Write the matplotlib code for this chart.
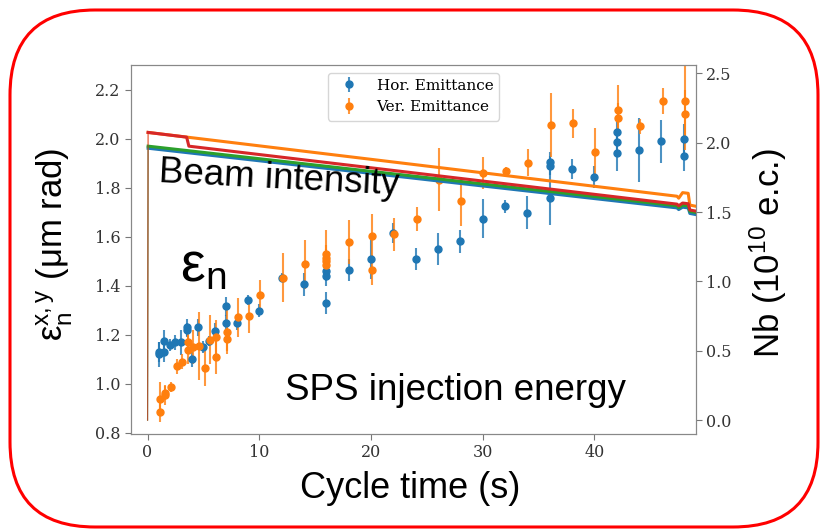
import numpy as np
import matplotlib.pyplot as plt
from matplotlib.patches import FancyBboxPatch

plt.rcParams['font.family'] = 'serif'
plt.rcParams['font.serif'] = ['DejaVu Serif']
plt.rcParams['mathtext.fontset'] = 'custom'
plt.rcParams['mathtext.rm'] = 'Liberation Sans'
plt.rcParams['mathtext.it'] = 'Liberation Sans:italic'

# emittance measurements (um rad) vs cycle time (s)
hor_t = [1.0, 1.0, 1.5, 1.5, 2.0, 2.5, 3.0, 3.5, 3.5, 4.0, 4.5, 5.0, 5.5, 6.0,
         7.0, 7.0, 8.0, 9.0, 10.0, 12.0, 14.0, 16.0, 16.0, 16.0, 18.0, 20.0,
         22.0, 24.0, 26.0, 28.0, 30.0, 32.0, 34.0, 36.0, 36.0, 36.0, 38.0,
         40.0, 42.0, 42.0, 42.0, 44.0, 46.0, 48.0, 48.0]
hor_e = [1.12, 1.13, 1.176, 1.13, 1.157, 1.17, 1.169, 1.23, 1.22, 1.10, 1.23,
         1.149, 1.176, 1.216, 1.316, 1.248, 1.248, 1.341, 1.298, 1.434, 1.406,
         1.46, 1.44, 1.329, 1.465, 1.508, 1.617, 1.511, 1.551, 1.583, 1.674,
         1.725, 1.699, 1.906, 1.891, 1.757, 1.878, 1.845, 2.029, 1.988, 1.941,
         1.956, 1.99, 2.0, 1.93]
hor_err = [0.05, 0.04, 0.044, 0.04, 0.024, 0.03, 0.05, 0.034, 0.03, 0.03, 0.034,
           0.024, 0.02, 0.034, 0.04, 0.034, 0.027, 0.02, 0.027, 0.02, 0.047,
           0.04, 0.04, 0.044, 0.044, 0.078, 0.04, 0.045, 0.064, 0.047, 0.08,
           0.027, 0.068, 0.04, 0.04, 0.11, 0.04, 0.045, 0.06, 0.05, 0.07,
           0.13, 0.087, 0.06, 0.06]

ver_t = [1.1, 1.1, 1.6, 1.6, 2.1, 2.6, 3.1, 3.6, 3.6, 4.1, 4.6, 5.1, 5.6, 6.1,
         6.1, 7.1, 7.1, 8.1, 9.1, 10.1, 12.1, 14.1, 16.0, 16.0, 16.0, 16.0,
         18.0, 20.1, 20.1, 22.1, 24.1, 26.1, 28.1, 30.0, 32.1, 34.1, 36.1,
         38.1, 40.1, 42.1, 42.1, 44.1, 46.1, 48.1, 48.1]
ver_e = [0.884, 0.938, 0.955, 0.962, 0.986, 1.071, 1.09, 1.169, 1.139, 1.149,
         1.155, 1.063, 1.18, 1.19, 1.108, 1.21, 1.182, 1.271, 1.277, 1.362,
         1.434, 1.488, 1.53, 1.515, 1.50, 1.485, 1.58, 1.605, 1.465, 1.61,
         1.674, 1.834, 1.746, 1.86, 1.87, 1.902, 2.058, 2.064, 1.946, 2.119,
         2.085, 2.051, 2.155, 2.155, 2.10]
ver_err = [0.04, 0.07, 0.04, 0.03, 0.02, 0.03, 0.03, 0.04, 0.06, 0.07, 0.14,
           0.07, 0.1, 0.07, 0.07, 0.09, 0.05, 0.08, 0.07, 0.06, 0.1, 0.1, 0.1,
           0.05, 0.05, 0.05, 0.09, 0.09, 0.06, 0.068, 0.05, 0.13, 0.1, 0.065,
           0.015, 0.055, 0.13, 0.06, 0.1, 0.1, 0.06, 0.03, 0.055, 0.2, 0.1]

# beam intensity traces (1e10 e.c.)
blue_t = [0, 0.05, 47.4, 47.55, 47.9, 48.4, 48.55, 49.2]
blue_n = [0, 1.96, 1.53, 1.518, 1.535, 1.53, 1.49, 1.48]
orange_t = [0, 0.05, 47.4, 47.55, 47.9, 48.4, 48.55, 49.2]
orange_n = [0, 2.074, 1.614, 1.60, 1.64, 1.635, 1.55, 1.54]
green_t = [0, 0.05, 47.4, 47.55, 47.9, 48.4, 48.55, 49.2]
green_n = [0, 1.975, 1.545, 1.532, 1.55, 1.545, 1.505, 1.495]
red_t = [0, 0.05, 3.5, 3.7, 47.4, 47.55, 47.9, 48.4, 48.55, 49.2]
red_n = [0, 2.074, 2.04, 1.975, 1.557, 1.545, 1.565, 1.56, 1.515, 1.505]

fig = plt.figure(figsize=(8.23, 5.29), dpi=100)
ax = fig.add_axes([0.1592, 0.1796, 0.6865, 0.6975])
ax2 = ax.twinx()

h = ax.errorbar(hor_t, hor_e, yerr=hor_err, fmt='o', color='C0', ms=5,
                elinewidth=1.5, label='Hor. Emittance')
v = ax.errorbar(ver_t, ver_e, yerr=ver_err, fmt='o', color='C1', ms=5,
                elinewidth=1.5, label='Ver. Emittance')
h[2][0].set_alpha(0.8)
v[2][0].set_alpha(0.8)

for t, n, c in [(blue_t, blue_n, 'C0'), (orange_t, orange_n, 'C1'),
                (green_t, green_n, 'C2'), (red_t, red_n, 'C3')]:
    ax2.plot(t[:2], n[:2], color=c, lw=0.8, alpha=0.6)
    ax2.plot(t[1:], n[1:], color=c, lw=2.2)

ax.set_xlim(-1.48, 49.1)
ax.set_ylim(0.795, 2.302)
ax2.set_ylim(-0.10, 2.56)

for a in (ax, ax2):
    a.tick_params(labelsize=11.5, labelcolor='#333333', color='#777777', length=4)
    for s in a.spines.values():
        s.set_color('#888888')

ax.legend(loc='upper center', prop={'family': 'DejaVu Serif', 'size': 11})

sans = 'Liberation Sans'
fig.text(158 / 823, 1 - 182 / 529, 'Beam intensity', rotation=-3,
         rotation_mode='anchor', ha='left', va='baseline', fontsize=26.5, family=sans)
fig.text(285 / 823, 1 - 400 / 529, 'SPS injection energy', ha='left',
         va='baseline', fontsize=26.5, family=sans)
fig.text(180 / 823, 1 - 281 / 529, r'$\mathregular{ε_n}$', ha='left',
         va='baseline', fontsize=40, family=sans)
fig.text(410 / 823, 1 - 488 / 529, 'Cycle time (s)', ha='center',
         va='center', fontsize=26, family=sans)
fig.text(55 / 823, 1 - 244 / 529, r'$\mathregular{ε_n^{x,y}}$ (μm rad)',
         rotation=90, ha='center', va='center', fontsize=25, family=sans)
fig.text(768 / 823, 1 - 253 / 529, r'Nb (10$^{10}$ e.c.)',
         rotation=90, ha='center', va='center', fontsize=25, family=sans)

frame = FancyBboxPatch((0.10, 0.02), 8.08, 5.17,
                       boxstyle='round,pad=0,rounding_size=0.85',
                       transform=fig.dpi_scale_trans, fill=False,
                       edgecolor='red', lw=2.2)
fig.add_artist(frame)

fig.savefig('out.png', dpi=100)
